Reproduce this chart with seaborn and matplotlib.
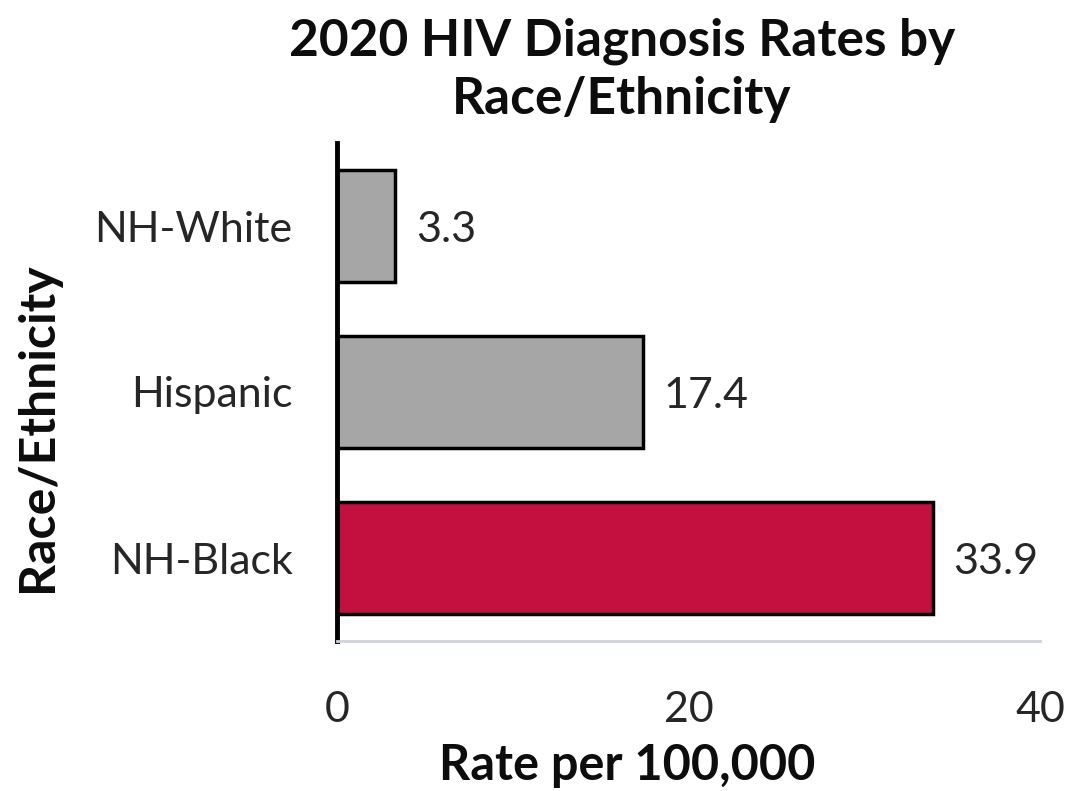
import matplotlib
matplotlib.use("Agg")
import matplotlib.pyplot as plt
import seaborn as sns
import pandas as pd

groups = ["NH-White", "Hispanic", "NH-Black"]
rates = [3.3, 17.4, 33.9]
bar_colors = ["#A6A6A6", "#A6A6A6", "#C4103E"]
x_ticks = [0, 20, 40]

df = pd.DataFrame({"group": groups, "rate": rates})

sns.set_style("white")
plt.rcParams["font.family"] = ["Lato", "DejaVu Sans"]

fig = plt.figure(figsize=(10.7, 7.91), dpi=100)
ax = fig.add_axes([337 / 1070, 1 - 641 / 791, (1040 - 337) / 1070, (641 - 143) / 791])

sns.barplot(data=df, x="rate", y="group", hue="group", palette=bar_colors,
            saturation=1, legend=False, width=0.68, edgecolor="black",
            linewidth=2.5, ax=ax)

for i, v in enumerate(rates):
    ax.annotate(f"{v}", (v, i), xytext=(15, -3), textcoords="offset points",
                ha="left", va="center", fontsize=31, color="#262626")

ax.set_xlim(0, 40)
ax.set_ylim(2.5, -0.5)
ax.set_xticks(x_ticks)
ax.set_xticklabels([str(t) for t in x_ticks], fontsize=31, color="#262626")
ax.set_yticks(range(len(groups)))
ax.set_yticklabels(groups, fontsize=31, color="#262626")
ax.tick_params(axis="x", length=0, pad=36)
ax.tick_params(axis="y", length=0, pad=32)
ax.set_xlabel("")
ax.set_ylabel("")

for s in ["top", "right"]:
    ax.spines[s].set_visible(False)
ax.spines["left"].set_color("black")
ax.spines["left"].set_linewidth(3.5)
ax.spines["bottom"].set_color("#D0D3DA")
ax.spines["bottom"].set_linewidth(2)

fig.text(622 / 1070, 1 - 70 / 791, "2020 HIV Diagnosis Rates by\nRace/Ethnicity",
         ha="center", va="center", fontsize=37, fontweight="bold",
         color="#0D0D0D", linespacing=1.28)
fig.text(627 / 1070, 1 - 765 / 791, "Rate per 100,000", ha="center", va="center",
         fontsize=35, fontweight="bold", color="#0D0D0D")
fig.text(38 / 1070, 1 - 427 / 791, "Race/Ethnicity", ha="center", va="center",
         rotation=90, fontsize=36, fontweight="bold", color="#0D0D0D")

fig.savefig("out.png", dpi=100)
